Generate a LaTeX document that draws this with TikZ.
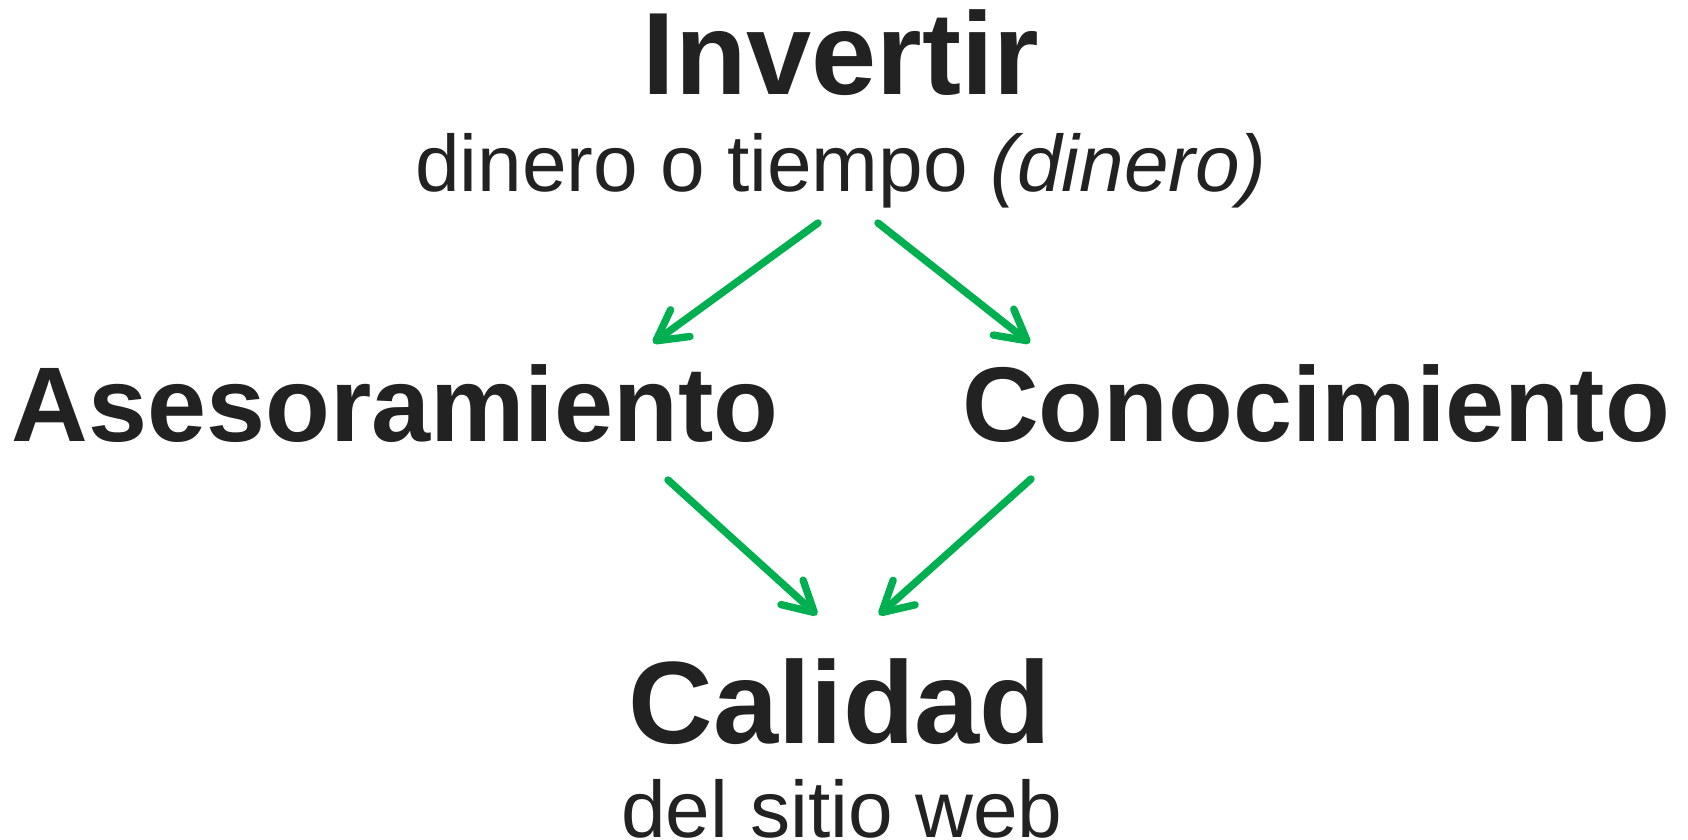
\documentclass[tikz,border=0pt]{standalone}
\usepackage{fontspec}
\setmainfont{Liberation Sans}
\usetikzlibrary{arrows.meta}
\definecolor{ink}{HTML}{222222}
\definecolor{arrowgreen}{HTML}{00B050}
\tikzset{
	head/.style={anchor=base, inner sep=0pt, text=ink, font=\fontsize{33.3pt}{36pt}\selectfont\bfseries},
	mid/.style={anchor=base, inner sep=0pt, text=ink, font=\fontsize{30.2pt}{33pt}\selectfont\bfseries},
	sub/.style={anchor=base, inner sep=0pt, text=ink, font=\fontsize{22.8pt}{25pt}\selectfont},
	link/.style={draw=arrowgreen, line width=2.1pt, line cap=round,
		-{Straight Barb[length=0.3cm, width=0.33cm, round]}}
}
\begin{document}
\begin{tikzpicture}[x=0.01cm,y=-0.01cm]
	\useasboundingbox (0,0) rectangle (1688,840);
	% Texts
	\node[head] (invertir) at (841,95) {Invertir};
	\node[sub] (dinero) at (841,192) {dinero o tiempo \textit{(dinero)}};
	\node[mid] (asesor) at (395,442) {Asesoramiento};
	\node[mid] (conoc) at (1316,442) {Conocimiento};
	\node[head] (calidad) at (840,743) {Calidad};
	\node[sub] (sitio) at (842,837) {del sitio web};

	% Arrow ends
	\coordinate (l1a) at (818,223);
	\coordinate (l1b) at (653,343);
	\coordinate (r1a) at (878,223);
	\coordinate (r1b) at (1030,343);
	\coordinate (l2a) at (668,480);
	\coordinate (l2b) at (817,615);
	\coordinate (r2a) at (1031,479);
	\coordinate (r2b) at (879,615);

	% Arrows
	\draw[link] (l1a) -- (l1b);
	\draw[link] (r1a) -- (r1b);
	\draw[link] (l2a) -- (l2b);
	\draw[link] (r2a) -- (r2b);
\end{tikzpicture}
\end{document}
